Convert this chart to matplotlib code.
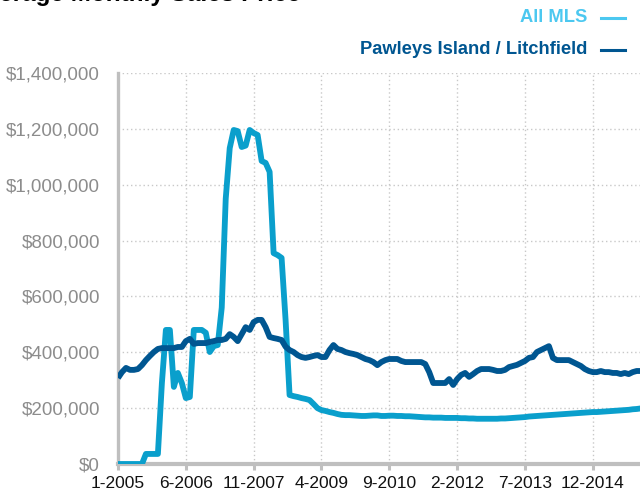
import matplotlib
matplotlib.use("Agg")
import matplotlib.pyplot as plt
from matplotlib.lines import Line2D
from matplotlib.ticker import FuncFormatter, FixedLocator

# ---- data (values in thousands of dollars, monthly from 1-2005) ----
tick_labels = ["1-2005", "6-2006", "11-2007", "4-2009", "9-2010", "2-2012", "7-2013", "12-2014"]
tick_months = [0, 17, 34, 51, 68, 85, 102, 119]

all_mls = [
    0, 0, 0, 0, 0, 0, 0, 36, 36, 36,
    36, 290, 480, 480, 276, 326, 290, 236, 240, 480,
    480, 480, 470, 401, 422, 426, 560, 950, 1131, 1196,
    1192, 1135, 1140, 1196, 1185, 1178, 1085, 1078, 1046, 755,
    748, 738, 516, 247, 243, 240, 236, 233, 229, 215,
    200, 193, 190, 186, 183, 179, 176, 175, 175, 174,
    173, 172, 172, 173, 174, 174, 172, 172, 173, 173,
    172, 172, 171, 171, 170, 169, 168, 167, 167, 166,
    166, 166, 165, 165, 165, 165, 164, 164, 163, 163,
    162, 162, 162, 162, 162, 162, 163, 163, 164, 165,
    166, 167, 168, 170, 171, 172, 173, 174, 175, 176,
    177, 178, 179, 180, 181, 182, 183, 184, 185, 186,
    186, 187, 188, 189, 190, 191, 192, 193, 194, 196,
    197, 199,
]

pawleys = [
    308, 329, 344, 337, 337, 340, 354, 372, 387, 401,
    412, 415, 415, 415, 415, 419, 419, 440, 448, 430,
    433, 433, 433, 437, 440, 444, 444, 448, 465, 455,
    440, 465, 490, 480, 508, 516, 516, 490, 455, 451,
    448, 444, 420, 408, 401, 390, 383, 380, 383, 387,
    390, 383, 383, 408, 426, 412, 408, 401, 397, 394,
    390, 383, 376, 372, 365, 354, 365, 372, 376, 376,
    376, 369, 365, 365, 365, 365, 365, 358, 329, 290,
    290, 290, 290, 304, 283, 304, 319, 326, 312, 322,
    333, 340, 340, 340, 337, 333, 333, 337, 347, 351,
    355, 362, 369, 380, 383, 401, 408, 415, 422, 380,
    372, 372, 372, 372, 365, 358, 351, 340, 333, 329,
    329, 333, 329, 329, 326, 326, 322, 326, 322, 329,
    333, 333,
]

series_names = ["All MLS", "Pawleys Island / Litchfield"]
line_colors = ["#0A9FCC", "#005691"]
legend_colors = ["#4CC8F0", "#005691"]
title_text = "Average Monthly Sales Price"

# ---- figure ----
W, H = 640, 496
fig = plt.figure(figsize=(W / 100, H / 100), dpi=100)
ax_left, ax_bottom, ax_top = 118, 464, 73
ax = fig.add_axes([ax_left / W, 1 - ax_bottom / H, 1 - ax_left / W, (ax_bottom - ax_top) / H])

months = list(range(len(all_mls)))
ax.plot(months, [v * 1000 for v in all_mls], color=line_colors[0], lw=4.2,
        solid_joinstyle="round", solid_capstyle="butt", zorder=4, clip_on=True)
ax.plot(months, [v * 1000 for v in pawleys], color=line_colors[1], lw=4.2,
        solid_joinstyle="round", solid_capstyle="butt", zorder=5, clip_on=True)

ax.set_xlim(0, (W - ax_left) / 3.99)
ax.set_ylim(0, 1400000)

ax.yaxis.set_major_locator(FixedLocator([i * 200000 for i in range(8)]))
ax.yaxis.set_major_formatter(FuncFormatter(lambda v, p: "${:,.0f}".format(v)))
ax.xaxis.set_major_locator(FixedLocator(tick_months))
ax.set_xticklabels(tick_labels)

spine_col = "#BFBFBF"
for s in ["top", "right"]:
    ax.spines[s].set_visible(False)
ax.spines["left"].set_color(spine_col)
ax.spines["left"].set_linewidth(2.4)
ax.spines["bottom"].set_color(spine_col)
ax.spines["bottom"].set_linewidth(3.0)

ax.grid(True, which="major", axis="both", color="#C8C8C8", linestyle=(0, (1, 2)), linewidth=1.0)
ax.set_axisbelow(True)

ax.tick_params(axis="y", length=0, pad=13, labelsize=13.5, labelcolor="#8C8C8C")
ax.tick_params(axis="x", length=4, width=2.2, color=spine_col, pad=5, labelsize=12.5, labelcolor="#111111")

for lab in ax.get_yticklabels() + ax.get_xticklabels():
    lab.set_fontfamily(["Liberation Sans", "DejaVu Sans"])

# ---- legend (top right) ----
legend_y = [18, 50]
for name, col, yy in zip(series_names, legend_colors, legend_y):
    fig.text(587 / W, 1 - yy / H, name, color=col, fontsize=13.2, fontweight="bold",
             family=["Liberation Sans", "DejaVu Sans"], ha="right", va="center")
    fig.add_artist(Line2D([601 / W, 625 / W], [1 - yy / H, 1 - yy / H], color=col, lw=2.2,
                          transform=fig.transFigure))

# ---- title (cut off at the top in the reference) ----
fig.text(-31 / W, 1 - 1 / H, title_text, color="black", fontsize=17.5, fontweight="bold",
         family=["Liberation Sans", "DejaVu Sans"], ha="left", va="baseline")

fig.savefig("out.png", dpi=100)
